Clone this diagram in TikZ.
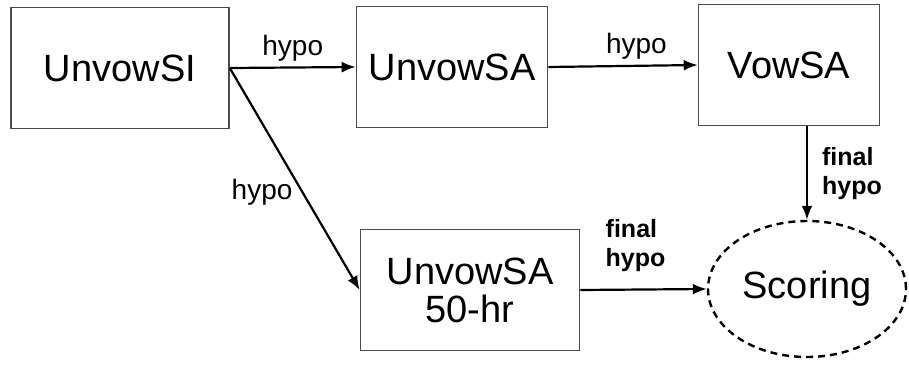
\documentclass[tikz,border=0pt]{standalone}
\usepackage{fontspec}
\setmainfont{Liberation Sans}
\usetikzlibrary{arrows.meta,shapes.geometric}

\tikzset{
  box/.style={draw=black!70,line width=1.6pt,fill=white,minimum width=#1,minimum height=121pt,
    inner sep=0pt,align=center,font=\fontsize{38}{38}\selectfont},
  arr/.style={-{Latex[length=14pt,width=11pt]},line width=2.2pt},
  lbl/.style={inner sep=5pt,font=\fontsize{28}{30}\selectfont},
  fin/.style={inner sep=5pt,align=left,font=\bfseries\fontsize{25}{29}\selectfont}
}

\begin{document}
\begin{tikzpicture}[x=1pt,y=-1pt]
    \useasboundingbox (0,0) rectangle (909,364);
    \node[box=218pt] (si) at (120,68) {UnvowSI};
    \node[box=191pt] (sa) at (452,67) {UnvowSA};
    \node[box=181pt] (vsa) at (789,65) {VowSA};
    \node[box=219pt] (sa50) at (470,290) {UnvowSA\\50-hr};
    \node[draw,ellipse,dash pattern=on 7pt off 5pt,line width=2.4pt,minimum width=198pt,
      minimum height=136pt,inner sep=0pt,font=\fontsize{38}{38}\selectfont] (sc) at (807,289) {Scoring};
    \draw[arr] (si.east) -- node[lbl,above] {hypo} (sa.west);
    \draw[arr] (sa.east) -- node[lbl,above,pos=0.59] {hypo} (vsa.west);
    \draw[arr] (si.east) -- node[lbl,left=4pt,pos=0.56] {hypo} (sa50.west);
    \draw[arr] (vsa.south -| sc.north) -- node[fin,right=9pt] {final\\hypo} (sc.north);
    \draw[arr] (sa50.east) -- node[fin,above=12pt,xshift=-8pt] {final\\hypo} (sc.west);
\end{tikzpicture}
\end{document}
